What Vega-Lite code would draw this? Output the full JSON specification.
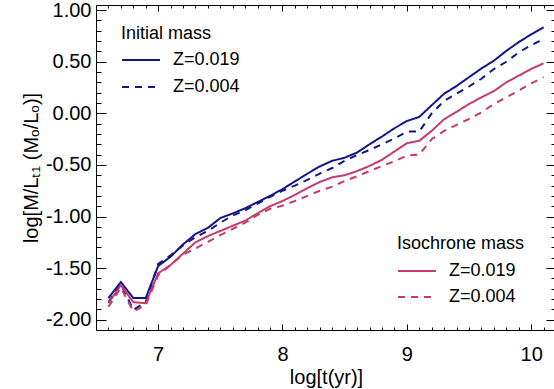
{
  "$schema": "https://vega.github.io/schema/vega-lite/v6.json",
  "width": 460,
  "height": 325,
  "autosize": {"type": "none"},
  "padding": {"left": 96, "top": 5, "right": 0, "bottom": 59},
  "config": {
    "view": {"stroke": null},
    "font": "Liberation Sans",
    "axis": {"grid": false, "domainColor": "black", "tickColor": "black", "labelColor": "black", "titleColor": "black", "domainWidth": 1, "tickWidth": 1, "titleFontWeight": "normal", "labelFont": "Liberation Sans", "titleFont": "Liberation Sans"},
    "legend": {"labelFont": "Liberation Sans", "titleFont": "Liberation Sans", "labelColor": "black", "titleColor": "black"}
  },
  "data": {
    "values": [
      {"t":6.6,"m":-1.79,"mass":"Initial","Z":"Z=0.019"},
      {"t":6.7,"m":-1.635,"mass":"Initial","Z":"Z=0.019"},
      {"t":6.8,"m":-1.79,"mass":"Initial","Z":"Z=0.019"},
      {"t":6.9,"m":-1.79,"mass":"Initial","Z":"Z=0.019"},
      {"t":7.0,"m":-1.48,"mass":"Initial","Z":"Z=0.019"},
      {"t":7.1,"m":-1.39,"mass":"Initial","Z":"Z=0.019"},
      {"t":7.2,"m":-1.27,"mass":"Initial","Z":"Z=0.019"},
      {"t":7.3,"m":-1.17,"mass":"Initial","Z":"Z=0.019"},
      {"t":7.4,"m":-1.11,"mass":"Initial","Z":"Z=0.019"},
      {"t":7.5,"m":-1.015,"mass":"Initial","Z":"Z=0.019"},
      {"t":7.6,"m":-0.97,"mass":"Initial","Z":"Z=0.019"},
      {"t":7.7,"m":-0.92,"mass":"Initial","Z":"Z=0.019"},
      {"t":7.8,"m":-0.86,"mass":"Initial","Z":"Z=0.019"},
      {"t":7.9,"m":-0.8,"mass":"Initial","Z":"Z=0.019"},
      {"t":8.0,"m":-0.735,"mass":"Initial","Z":"Z=0.019"},
      {"t":8.1,"m":-0.66,"mass":"Initial","Z":"Z=0.019"},
      {"t":8.2,"m":-0.585,"mass":"Initial","Z":"Z=0.019"},
      {"t":8.3,"m":-0.515,"mass":"Initial","Z":"Z=0.019"},
      {"t":8.4,"m":-0.46,"mass":"Initial","Z":"Z=0.019"},
      {"t":8.5,"m":-0.43,"mass":"Initial","Z":"Z=0.019"},
      {"t":8.6,"m":-0.38,"mass":"Initial","Z":"Z=0.019"},
      {"t":8.7,"m":-0.3,"mass":"Initial","Z":"Z=0.019"},
      {"t":8.8,"m":-0.225,"mass":"Initial","Z":"Z=0.019"},
      {"t":8.9,"m":-0.145,"mass":"Initial","Z":"Z=0.019"},
      {"t":9.0,"m":-0.075,"mass":"Initial","Z":"Z=0.019"},
      {"t":9.1,"m":-0.035,"mass":"Initial","Z":"Z=0.019"},
      {"t":9.2,"m":0.078,"mass":"Initial","Z":"Z=0.019"},
      {"t":9.3,"m":0.19,"mass":"Initial","Z":"Z=0.019"},
      {"t":9.4,"m":0.265,"mass":"Initial","Z":"Z=0.019"},
      {"t":9.5,"m":0.35,"mass":"Initial","Z":"Z=0.019"},
      {"t":9.6,"m":0.435,"mass":"Initial","Z":"Z=0.019"},
      {"t":9.7,"m":0.51,"mass":"Initial","Z":"Z=0.019"},
      {"t":9.8,"m":0.605,"mass":"Initial","Z":"Z=0.019"},
      {"t":9.9,"m":0.69,"mass":"Initial","Z":"Z=0.019"},
      {"t":10.0,"m":0.765,"mass":"Initial","Z":"Z=0.019"},
      {"t":10.1,"m":0.835,"mass":"Initial","Z":"Z=0.019"},

      {"t":6.6,"m":-1.83,"mass":"Initial","Z":"Z=0.004"},
      {"t":6.7,"m":-1.655,"mass":"Initial","Z":"Z=0.004"},
      {"t":6.8,"m":-1.905,"mass":"Initial","Z":"Z=0.004"},
      {"t":6.9,"m":-1.83,"mass":"Initial","Z":"Z=0.004"},
      {"t":7.0,"m":-1.46,"mass":"Initial","Z":"Z=0.004"},
      {"t":7.1,"m":-1.375,"mass":"Initial","Z":"Z=0.004"},
      {"t":7.2,"m":-1.28,"mass":"Initial","Z":"Z=0.004"},
      {"t":7.3,"m":-1.2,"mass":"Initial","Z":"Z=0.004"},
      {"t":7.4,"m":-1.14,"mass":"Initial","Z":"Z=0.004"},
      {"t":7.5,"m":-1.06,"mass":"Initial","Z":"Z=0.004"},
      {"t":7.6,"m":-0.99,"mass":"Initial","Z":"Z=0.004"},
      {"t":7.7,"m":-0.94,"mass":"Initial","Z":"Z=0.004"},
      {"t":7.8,"m":-0.875,"mass":"Initial","Z":"Z=0.004"},
      {"t":7.9,"m":-0.81,"mass":"Initial","Z":"Z=0.004"},
      {"t":8.0,"m":-0.75,"mass":"Initial","Z":"Z=0.004"},
      {"t":8.1,"m":-0.7,"mass":"Initial","Z":"Z=0.004"},
      {"t":8.2,"m":-0.645,"mass":"Initial","Z":"Z=0.004"},
      {"t":8.3,"m":-0.585,"mass":"Initial","Z":"Z=0.004"},
      {"t":8.4,"m":-0.53,"mass":"Initial","Z":"Z=0.004"},
      {"t":8.5,"m":-0.46,"mass":"Initial","Z":"Z=0.004"},
      {"t":8.6,"m":-0.405,"mass":"Initial","Z":"Z=0.004"},
      {"t":8.7,"m":-0.355,"mass":"Initial","Z":"Z=0.004"},
      {"t":8.8,"m":-0.3,"mass":"Initial","Z":"Z=0.004"},
      {"t":8.9,"m":-0.245,"mass":"Initial","Z":"Z=0.004"},
      {"t":9.0,"m":-0.177,"mass":"Initial","Z":"Z=0.004"},
      {"t":9.1,"m":-0.177,"mass":"Initial","Z":"Z=0.004"},
      {"t":9.2,"m":0.0,"mass":"Initial","Z":"Z=0.004"},
      {"t":9.3,"m":0.12,"mass":"Initial","Z":"Z=0.004"},
      {"t":9.4,"m":0.19,"mass":"Initial","Z":"Z=0.004"},
      {"t":9.5,"m":0.26,"mass":"Initial","Z":"Z=0.004"},
      {"t":9.6,"m":0.335,"mass":"Initial","Z":"Z=0.004"},
      {"t":9.7,"m":0.43,"mass":"Initial","Z":"Z=0.004"},
      {"t":9.8,"m":0.5,"mass":"Initial","Z":"Z=0.004"},
      {"t":9.9,"m":0.59,"mass":"Initial","Z":"Z=0.004"},
      {"t":10.0,"m":0.66,"mass":"Initial","Z":"Z=0.004"},
      {"t":10.1,"m":0.72,"mass":"Initial","Z":"Z=0.004"},

      {"t":6.6,"m":-1.84,"mass":"Isochrone","Z":"Z=0.019"},
      {"t":6.7,"m":-1.665,"mass":"Isochrone","Z":"Z=0.019"},
      {"t":6.8,"m":-1.83,"mass":"Isochrone","Z":"Z=0.019"},
      {"t":6.9,"m":-1.84,"mass":"Isochrone","Z":"Z=0.019"},
      {"t":7.0,"m":-1.55,"mass":"Isochrone","Z":"Z=0.019"},
      {"t":7.1,"m":-1.47,"mass":"Isochrone","Z":"Z=0.019"},
      {"t":7.2,"m":-1.36,"mass":"Isochrone","Z":"Z=0.019"},
      {"t":7.3,"m":-1.25,"mass":"Isochrone","Z":"Z=0.019"},
      {"t":7.4,"m":-1.19,"mass":"Isochrone","Z":"Z=0.019"},
      {"t":7.5,"m":-1.14,"mass":"Isochrone","Z":"Z=0.019"},
      {"t":7.6,"m":-1.09,"mass":"Isochrone","Z":"Z=0.019"},
      {"t":7.7,"m":-1.04,"mass":"Isochrone","Z":"Z=0.019"},
      {"t":7.8,"m":-0.97,"mass":"Isochrone","Z":"Z=0.019"},
      {"t":7.9,"m":-0.9,"mass":"Isochrone","Z":"Z=0.019"},
      {"t":8.0,"m":-0.85,"mass":"Isochrone","Z":"Z=0.019"},
      {"t":8.1,"m":-0.79,"mass":"Isochrone","Z":"Z=0.019"},
      {"t":8.2,"m":-0.725,"mass":"Isochrone","Z":"Z=0.019"},
      {"t":8.3,"m":-0.665,"mass":"Isochrone","Z":"Z=0.019"},
      {"t":8.4,"m":-0.62,"mass":"Isochrone","Z":"Z=0.019"},
      {"t":8.5,"m":-0.6,"mass":"Isochrone","Z":"Z=0.019"},
      {"t":8.6,"m":-0.56,"mass":"Isochrone","Z":"Z=0.019"},
      {"t":8.7,"m":-0.51,"mass":"Isochrone","Z":"Z=0.019"},
      {"t":8.8,"m":-0.45,"mass":"Isochrone","Z":"Z=0.019"},
      {"t":8.9,"m":-0.37,"mass":"Isochrone","Z":"Z=0.019"},
      {"t":9.0,"m":-0.29,"mass":"Isochrone","Z":"Z=0.019"},
      {"t":9.1,"m":-0.266,"mass":"Isochrone","Z":"Z=0.019"},
      {"t":9.2,"m":-0.17,"mass":"Isochrone","Z":"Z=0.019"},
      {"t":9.3,"m":-0.057,"mass":"Isochrone","Z":"Z=0.019"},
      {"t":9.4,"m":0.014,"mass":"Isochrone","Z":"Z=0.019"},
      {"t":9.5,"m":0.09,"mass":"Isochrone","Z":"Z=0.019"},
      {"t":9.6,"m":0.155,"mass":"Isochrone","Z":"Z=0.019"},
      {"t":9.7,"m":0.215,"mass":"Isochrone","Z":"Z=0.019"},
      {"t":9.8,"m":0.3,"mass":"Isochrone","Z":"Z=0.019"},
      {"t":9.9,"m":0.365,"mass":"Isochrone","Z":"Z=0.019"},
      {"t":10.0,"m":0.43,"mass":"Isochrone","Z":"Z=0.019"},
      {"t":10.1,"m":0.485,"mass":"Isochrone","Z":"Z=0.019"},

      {"t":6.6,"m":-1.875,"mass":"Isochrone","Z":"Z=0.004"},
      {"t":6.7,"m":-1.69,"mass":"Isochrone","Z":"Z=0.004"},
      {"t":6.8,"m":-1.92,"mass":"Isochrone","Z":"Z=0.004"},
      {"t":6.9,"m":-1.86,"mass":"Isochrone","Z":"Z=0.004"},
      {"t":7.0,"m":-1.57,"mass":"Isochrone","Z":"Z=0.004"},
      {"t":7.1,"m":-1.47,"mass":"Isochrone","Z":"Z=0.004"},
      {"t":7.2,"m":-1.37,"mass":"Isochrone","Z":"Z=0.004"},
      {"t":7.3,"m":-1.31,"mass":"Isochrone","Z":"Z=0.004"},
      {"t":7.4,"m":-1.245,"mass":"Isochrone","Z":"Z=0.004"},
      {"t":7.5,"m":-1.18,"mass":"Isochrone","Z":"Z=0.004"},
      {"t":7.6,"m":-1.12,"mass":"Isochrone","Z":"Z=0.004"},
      {"t":7.7,"m":-1.06,"mass":"Isochrone","Z":"Z=0.004"},
      {"t":7.8,"m":-0.985,"mass":"Isochrone","Z":"Z=0.004"},
      {"t":7.9,"m":-0.925,"mass":"Isochrone","Z":"Z=0.004"},
      {"t":8.0,"m":-0.895,"mass":"Isochrone","Z":"Z=0.004"},
      {"t":8.1,"m":-0.85,"mass":"Isochrone","Z":"Z=0.004"},
      {"t":8.2,"m":-0.8,"mass":"Isochrone","Z":"Z=0.004"},
      {"t":8.3,"m":-0.75,"mass":"Isochrone","Z":"Z=0.004"},
      {"t":8.4,"m":-0.71,"mass":"Isochrone","Z":"Z=0.004"},
      {"t":8.5,"m":-0.655,"mass":"Isochrone","Z":"Z=0.004"},
      {"t":8.6,"m":-0.61,"mass":"Isochrone","Z":"Z=0.004"},
      {"t":8.7,"m":-0.56,"mass":"Isochrone","Z":"Z=0.004"},
      {"t":8.8,"m":-0.51,"mass":"Isochrone","Z":"Z=0.004"},
      {"t":8.9,"m":-0.465,"mass":"Isochrone","Z":"Z=0.004"},
      {"t":9.0,"m":-0.41,"mass":"Isochrone","Z":"Z=0.004"},
      {"t":9.1,"m":-0.4,"mass":"Isochrone","Z":"Z=0.004"},
      {"t":9.2,"m":-0.25,"mass":"Isochrone","Z":"Z=0.004"},
      {"t":9.3,"m":-0.17,"mass":"Isochrone","Z":"Z=0.004"},
      {"t":9.4,"m":-0.112,"mass":"Isochrone","Z":"Z=0.004"},
      {"t":9.5,"m":-0.055,"mass":"Isochrone","Z":"Z=0.004"},
      {"t":9.6,"m":0.01,"mass":"Isochrone","Z":"Z=0.004"},
      {"t":9.7,"m":0.09,"mass":"Isochrone","Z":"Z=0.004"},
      {"t":9.8,"m":0.155,"mass":"Isochrone","Z":"Z=0.004"},
      {"t":9.9,"m":0.22,"mass":"Isochrone","Z":"Z=0.004"},
      {"t":10.0,"m":0.29,"mass":"Isochrone","Z":"Z=0.004"},
      {"t":10.1,"m":0.35,"mass":"Isochrone","Z":"Z=0.004"}
    ]
  },
  "layer": [
    {
      "transform": [{"filter": "datum.mass === 'Initial'"}],
      "mark": {"type": "line", "color": "#14148c", "strokeWidth": 2},
      "encoding": {
        "x": {
          "field": "t", "type": "quantitative",
          "scale": {"domain": [6.5, 10.2], "nice": false, "zero": false},
          "axis": {
            "orient": "bottom",
            "title": "log[t(yr)]",
            "titleFontSize": 20,
            "titlePadding": 0,
            "labelFontSize": 20,
            "values": [6.6,6.7,6.8,6.9,7,7.1,7.2,7.3,7.4,7.5,7.6,7.7,7.8,7.9,8,8.1,8.2,8.3,8.4,8.5,8.6,8.7,8.8,8.9,9,9.1,9.2,9.3,9.4,9.5,9.6,9.7,9.8,9.9,10,10.1],
            "labelExpr": "abs(datum.value - round(datum.value)) < 0.001 ? format(datum.value, 'd') : ''",
            "tickSize": {"condition": {"test": "abs(datum.value - round(datum.value)) < 0.001", "value": -6}, "value": -3},
            "labelPadding": 20,
            "labelFlush": false,
            "labelOverlap": false
          }
        },
        "y": {
          "field": "m", "type": "quantitative",
          "scale": {"domain": [-2.1, 1.05], "nice": false, "zero": false},
          "axis": {
            "orient": "left",
            "title": "log[M/Lₜ₁ (Mₒ/Lₒ)]",
            "titleFontSize": 20,
            "titlePadding": 4,
            "labelFontSize": 20,
            "values": [-2,-1.9,-1.8,-1.7,-1.6,-1.5,-1.4,-1.3,-1.2,-1.1,-1,-0.9,-0.8,-0.7,-0.6,-0.5,-0.4,-0.3,-0.2,-0.1,0,0.1,0.2,0.3,0.4,0.5,0.6,0.7,0.8,0.9,1],
            "labelExpr": "abs(datum.value*2 - round(datum.value*2)) < 0.001 ? replace(format(datum.value, '.2f'), '\u2212', '-') : ''",
            "tickSize": {"condition": {"test": "abs(datum.value*2 - round(datum.value*2)) < 0.001", "value": -10}, "value": -5},
            "labelPadding": 15,
            "labelFlush": false,
            "labelOverlap": false
          }
        },
        "strokeDash": {
          "field": "Z", "type": "nominal",
          "scale": {"domain": ["Z=0.019", "Z=0.004"], "range": [[1, 0], [7, 6]]},
          "legend": {
            "title": "Initial mass",
            "orient": "none",
            "legendX": 25,
            "legendY": 20,
            "symbolType": "stroke",
            "symbolSize": 1444,
            "symbolStrokeWidth": 2,
            "symbolStrokeColor": "#14148c",
            "labelFontSize": 18,
            "titleFontSize": 18,
            "titleFontWeight": "normal",
            "clipHeight": 20,
            "rowPadding": 7,
            "titlePadding": 7,
            "labelOffset": 12,
            "padding": 0
          }
        }
      }
    },
    {
      "transform": [{"filter": "datum.mass === 'Isochrone'"}],
      "mark": {"type": "line", "color": "#c43b6c", "strokeWidth": 2},
      "encoding": {
        "x": {
          "field": "t", "type": "quantitative",
          "axis": {
            "orient": "top",
            "title": null,
            "labels": false,
            "values": [6.6,6.7,6.8,6.9,7,7.1,7.2,7.3,7.4,7.5,7.6,7.7,7.8,7.9,8,8.1,8.2,8.3,8.4,8.5,8.6,8.7,8.8,8.9,9,9.1,9.2,9.3,9.4,9.5,9.6,9.7,9.8,9.9,10,10.1],
            "tickSize": {"condition": {"test": "abs(datum.value - round(datum.value)) < 0.001", "value": -6}, "value": -3}
          }
        },
        "y": {
          "field": "m", "type": "quantitative",
          "axis": {
            "orient": "right",
            "title": null,
            "labels": false,
            "values": [-2,-1.9,-1.8,-1.7,-1.6,-1.5,-1.4,-1.3,-1.2,-1.1,-1,-0.9,-0.8,-0.7,-0.6,-0.5,-0.4,-0.3,-0.2,-0.1,0,0.1,0.2,0.3,0.4,0.5,0.6,0.7,0.8,0.9,1],
            "tickSize": {"condition": {"test": "abs(datum.value*2 - round(datum.value*2)) < 0.001", "value": -10}, "value": -5}
          }
        },
        "strokeDash": {
          "field": "Z", "type": "nominal",
          "scale": {"domain": ["Z=0.019", "Z=0.004"], "range": [[1, 0], [7, 6]]},
          "legend": {
            "title": "Isochrone mass",
            "orient": "none",
            "legendX": 301,
            "legendY": 230,
            "symbolType": "stroke",
            "symbolSize": 1444,
            "symbolStrokeWidth": 2,
            "symbolStrokeColor": "#c43b6c",
            "labelFontSize": 18,
            "titleFontSize": 18,
            "titleFontWeight": "normal",
            "clipHeight": 20,
            "rowPadding": 6,
            "titlePadding": 8,
            "labelOffset": 12,
            "padding": 0
          }
        }
      }
    }
  ],
  "resolve": {
    "scale": {"strokeDash": "independent"},
    "axis": {"x": "independent", "y": "independent"}
  }
}
